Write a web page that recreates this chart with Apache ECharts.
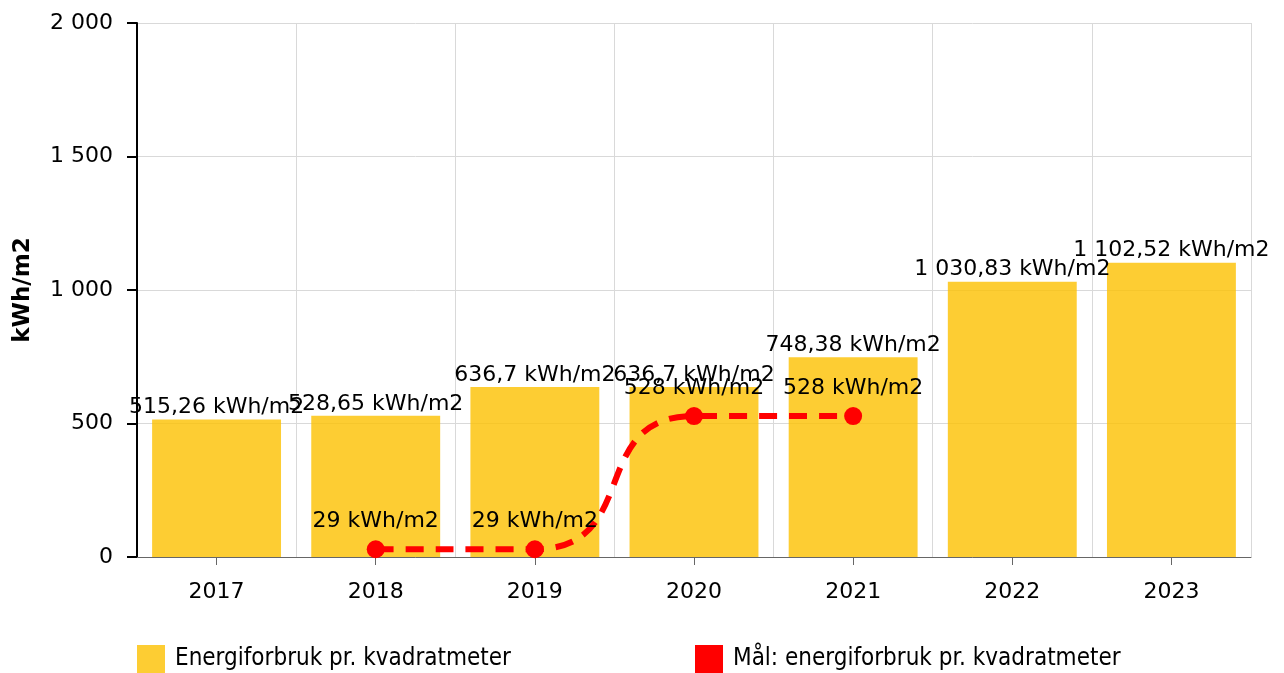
<!DOCTYPE html>
<html>
<head>
<meta charset="utf-8">
<script src="https://cdn.jsdelivr.net/npm/echarts@6/dist/echarts.min.js"></script>
<style>
  html, body { margin: 0; padding: 0; background: #fff; }
  #chart { width: 1284px; height: 673px; }
</style>
</head>
<body>
<div id="chart"></div>
<script>
// data
var years = ['2017', '2018', '2019', '2020', '2021', '2022', '2023']
var forbruk = [515.26, 528.65, 636.7, 636.7, 748.38, 1030.83, 1102.52]
var maal = [null, 29, 29, 528, 528, null, null]
var yTicks = [0, 500, 1000, 1500, 2000]

var FONT = 'DejaVu Sans'

// 1030.83 -> "1 030,83"
function fmt (v) {
  var parts = String(v).split('.')
  var whole = parts[0].replace(/\B(?=(\d{3})+(?!\d))/g, ' ')
  return parts.length > 1 ? whole + ',' + parts[1] : whole
}

var legendText = { fontFamily: 'DejaVu Sans Condensed', fontSize: 24, color: '#000', padding: [0, 0, 0, 5] }

var chart = echarts.init(document.getElementById('chart'))

chart.setOption({
  animation: false,
  textStyle: { fontFamily: FONT },
  grid: { left: 137, right: 33, top: 23, bottom: 116 },
  legend: [
    {
      left: 137, bottom: 0, padding: 0,
      itemWidth: 28, itemHeight: 28, itemGap: 10,
      icon: 'rect',
      data: ['Energiforbruk pr. kvadratmeter'],
      textStyle: legendText
    },
    {
      left: 695, bottom: 0, padding: 0,
      itemWidth: 28, itemHeight: 28, itemGap: 10,
      icon: 'rect',
      data: ['Mål: energiforbruk pr. kvadratmeter'],
      textStyle: legendText
    }
  ],
  xAxis: {
    type: 'category',
    data: years,
    axisLine: { lineStyle: { color: '#666', width: 1 } },
    axisTick: { show: true, alignWithLabel: true, length: 8, lineStyle: { color: '#666' } },
    axisLabel: { color: '#000', fontSize: 22, margin: 24 },
    splitLine: { show: true, lineStyle: { color: '#d9d9d9' } }
  },
  yAxis: {
    type: 'value',
    min: yTicks[0],
    max: yTicks[yTicks.length - 1],
    interval: 500,
    name: 'kWh/m2',
    nameLocation: 'middle',
    nameGap: 102,
    nameTextStyle: { fontWeight: 'bold', fontSize: 23, color: '#000' },
    axisLine: { show: true, lineStyle: { color: '#000', width: 2 } },
    axisTick: { show: true, length: 10, lineStyle: { color: '#000', width: 2 } },
    axisLabel: { color: '#000', fontSize: 22, margin: 24, formatter: fmt },
    splitLine: { show: true, lineStyle: { color: '#d9d9d9' } }
  },
  series: [
    {
      name: 'Energiforbruk pr. kvadratmeter',
      type: 'bar',
      data: forbruk,
      barCategoryGap: '19%',
      itemStyle: { color: 'rgba(252,192,0,0.8)' },
      label: {
        show: true,
        position: 'top',
        distance: 1,
        color: '#000',
        fontSize: 22,
        formatter: function (p) { return fmt(p.value) + ' kWh/m2' }
      }
    },
    {
      name: 'Mål: energiforbruk pr. kvadratmeter',
      type: 'line',
      data: maal,
      smooth: 0.6,
      connectNulls: false,
      symbol: 'circle',
      symbolSize: 18,
      itemStyle: { color: '#ff0000' },
      lineStyle: { color: '#ff0000', width: 6, type: [18, 12] },
      label: {
        show: true,
        position: 'top',
        distance: 8,
        color: '#000',
        fontSize: 22,
        formatter: function (p) { return fmt(p.value) + ' kWh/m2' }
      },
      z: 3
    }
  ]
})
</script>
</body>
</html>
